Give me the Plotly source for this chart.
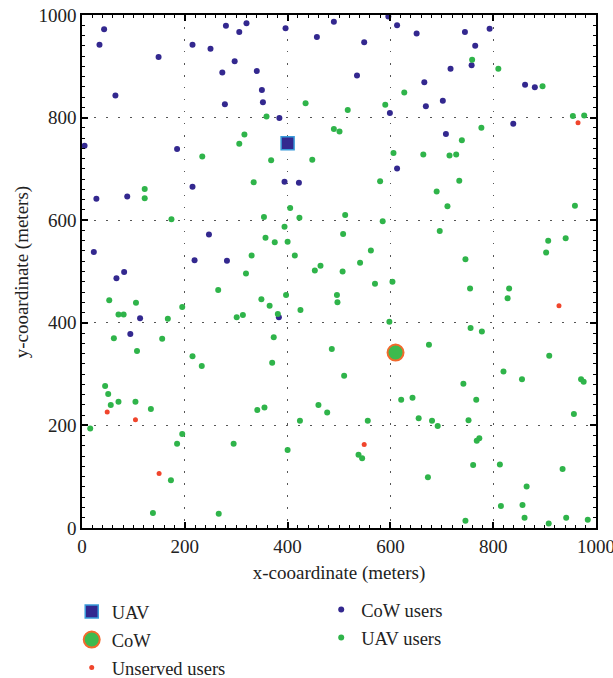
import plotly.graph_objects as go

# CoW users (dark blue)
cow_users_x = [43, 34, 149, 65, 5, 185, 215, 250, 280, 306, 320, 297, 273, 278,
               396, 490, 596, 613, 651, 457, 549, 340, 535, 666, 350, 352, 669, 599, 384, 613, 394, 422,
               793, 745, 765, 758, 717, 862, 881, 702, 839, 708,
               215, 28, 88, 247, 23, 219, 282, 82, 67, 113, 94, 383]
cow_users_y = [972, 942, 918, 843, 745, 739, 942, 934, 979, 967, 984, 910, 888, 826,
               974, 987, 997, 980, 964, 957, 947, 891, 882, 869, 854, 830, 822, 809, 799, 701, 675, 673,
               973, 967, 940, 902, 895, 864, 859, 833, 788, 768,
               665, 642, 646, 572, 538, 522, 521, 499, 487, 409, 378, 411]

# UAV users (green)
uav_users_x = [316, 306, 234, 334,
               627, 435, 590, 517, 359, 490, 501, 606, 664, 368, 448, 580,
               759, 810, 896, 955, 977, 777, 739, 715, 728, 734,
               122, 122, 174, 330, 319, 265, 53, 105, 195, 71, 81, 167, 301, 313, 62, 156, 107, 215,
               405, 354, 423, 512, 585, 394, 508, 357, 375, 400, 414, 562, 541, 464, 453, 507, 604, 570,
               496, 497, 349, 365, 397, 425, 381, 598, 373, 486, 675,
               690, 711, 959, 696, 907, 941, 903, 746, 755, 831, 828, 756, 778, 909,
               233, 45, 51, 56, 71, 104, 134, 16, 195, 185, 295, 173, 138, 266,
               370, 510, 341, 355, 460, 477, 424, 556, 621, 643, 655, 400, 538, 545, 673,
               820, 856, 971, 976, 742, 767, 957, 681, 692, 752, 773, 768, 761, 813, 935, 865, 815, 857,
               861, 746, 908, 942, 984]
uav_users_y = [767, 749, 724, 674,
               849, 828, 825, 815, 802, 778, 773, 731, 728, 717, 718, 676,
               913, 895, 861, 803, 804, 780, 756, 726, 728, 677,
               661, 643, 602, 531, 496, 464, 444, 439, 431, 416, 416, 408, 411, 415, 370, 369, 345, 335,
               624, 606, 605, 610, 598, 587, 573, 566, 557, 558, 531, 541, 517, 511, 502, 500, 480, 476,
               454, 440, 446, 433, 454, 425, 417, 402, 372, 349, 357,
               656, 627, 628, 579, 560, 565, 537, 524, 467, 467, 448, 390, 383, 336,
               316, 277, 261, 240, 246, 246, 232, 194, 183, 164, 164, 93, 29, 28,
               322, 297, 230, 235, 240, 225, 209, 209, 250, 254, 214, 152, 143, 136, 99,
               305, 290, 290, 285, 281, 250, 222, 209, 199, 210, 175, 170, 123, 124, 115, 81, 43, 45,
               20, 14, 9, 20, 16]

# Unserved users (red)
unserved_x = [965, 928, 49, 104, 150, 549]
unserved_y = [790, 433, 226, 211, 106, 163]

# UAV and CoW positions
uav_x = [400]
uav_y = [750]
cow_x = [610]
cow_y = [342]

BLUE = "#33288f"
GREEN = "#2fb44a"
RED = "#f0452c"
FONT = "Liberation Serif"
TXT = "#222222"

fig = go.Figure()

fig.add_trace(go.Scatter(x=cow_users_x, y=cow_users_y, mode="markers", name="CoW users",
                         marker=dict(color=BLUE, size=6), legend="legend2", legendgroup="a",
                         cliponaxis=False))
fig.add_trace(go.Scatter(x=uav_users_x, y=uav_users_y, mode="markers", name="UAV users",
                         marker=dict(color=GREEN, size=6), legend="legend2", legendgroup="b",
                         cliponaxis=False))
fig.add_trace(go.Scatter(x=unserved_x, y=unserved_y, mode="markers", name="Unserved users",
                         marker=dict(color=RED, size=5), legend="legend", legendgroup="e",
                         legendrank=3, cliponaxis=False))
fig.add_trace(go.Scatter(x=uav_x, y=uav_y, mode="markers", name="UAV",
                         marker=dict(color=BLUE, size=13, symbol="square",
                                     line=dict(color="#3a9ad9", width=1.5)),
                         legend="legend", legendgroup="c", legendrank=1, cliponaxis=False))
fig.add_trace(go.Scatter(x=cow_x, y=cow_y, mode="markers", name="CoW",
                         marker=dict(color="#3dba4e", size=16, symbol="circle",
                                     line=dict(color="#f26a2c", width=2)),
                         legend="legend", legendgroup="d", legendrank=2, cliponaxis=False))

axis_common = dict(
    range=[0, 1000], dtick=200, tick0=0,
    showline=True, linecolor="black", linewidth=1.5, mirror="ticks",
    ticks="inside", ticklen=6, tickcolor="black", tickwidth=1.5,
    showgrid=True, gridcolor="#555555", gridwidth=1, griddash="1.5px,10.5px",
    zeroline=False, ticklabeloverflow="allow",
    minor=dict(ticks="inside", dtick=20, ticklen=3, tickcolor="black", tickwidth=1, showgrid=False),
    tickfont=dict(family=FONT, size=19, color=TXT),
)

fig.update_xaxes(**axis_common,
                 title=dict(text="x-cooardinate (meters)", font=dict(family=FONT, size=19, color=TXT),
                            standoff=10))
fig.update_yaxes(**axis_common)

fig.add_annotation(text="y-cooardinate (meters)", xref="paper", yref="paper",
                   x=-0.117, y=0.5, xanchor="center", yanchor="middle", textangle=-90,
                   showarrow=False, font=dict(family=FONT, size=19, color=TXT))

legend_common = dict(
    font=dict(family=FONT, size=18.5, color=TXT),
    bgcolor="rgba(0,0,0,0)", orientation="v", tracegroupgap=1,
    xanchor="left", yanchor="top", xref="container", yref="container",
)

fig.update_layout(
    width=613, height=678,
    margin=dict(l=82, r=17, t=15, b=150, autoexpand=False),
    plot_bgcolor="white", paper_bgcolor="white",
    showlegend=True,
    legend=dict(**legend_common, x=0.117, y=0.1254),
    legend2=dict(**legend_common, x=0.524, y=0.1283),
)

fig.write_html("out.html")
